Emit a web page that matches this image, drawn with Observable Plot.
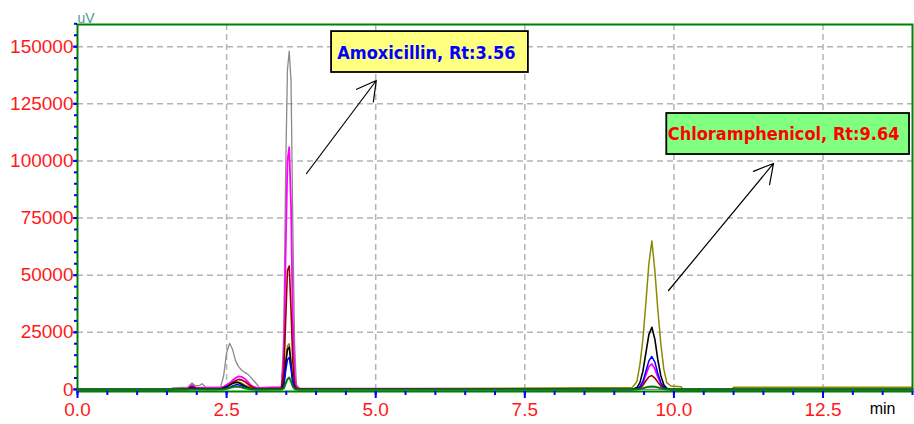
<!DOCTYPE html>
<html><head><meta charset="utf-8">
<script src="https://cdn.jsdelivr.net/npm/d3@7"></script>
<script src="https://cdn.jsdelivr.net/npm/@observablehq/plot@0.6"></script>
<style>
html,body{margin:0;padding:0;background:#fff;}
#chart{width:914px;height:424px;overflow:hidden;}
</style></head><body><div id="chart"></div>
<script>
// Retention time grid (min)
const times = [0, 1.55, 1.6, 1.85, 1.92, 1.98, 2.05, 2.09, 2.15, 2.4, 2.45, 2.5, 2.55, 2.6, 2.65, 2.7, 2.75, 2.8, 2.85, 2.9, 2.95, 3.0, 3.05,
  3.42, 3.46, 3.49, 3.52, 3.55, 3.58, 3.61, 3.64, 3.67, 3.72,
  9.3, 9.38, 9.43, 9.48, 9.53, 9.58, 9.63, 9.68, 9.73, 9.78, 9.83, 9.88, 9.95,
  10.12, 10.15, 10.98, 11.0, 14.0];

// Detector response (uV) per injection trace
const grey    = [0, 0, 700, 1000, 2800, 1500, 1800, 2500, 1000, 1000, 6000, 16000, 20200, 17500, 12500, 10000, 8500, 7500, 6800, 5500, 4000, 2500, 800,
  1000, 25000, 95000, 140000, 148000, 135000, 72000, 20000, 2000, 300,
  0, 0, 0, 0, 0, 0, 0, 0, 0, 0, 0, 0, 0,
  0, 0, 0, 0, 0];
const olive   = [0, 0, 0, 200, 800, 300, 300, 300, 200, 300, 800, 1500, 2500, 3300, 3600, 3300, 2800, 2000, 1400, 800, 400, 200, 200,
  300, 3000, 12000, 19000, 20000, 12000, 4000, 800, 200, 100,
  800, 3500, 11000, 22000, 38000, 55000, 65000, 52000, 35000, 20000, 9000, 3000, 1500,
  1200, 0, 0, 1000, 1000];
const magenta = [0, 0, 0, 500, 2000, 800, 700, 800, 700, 700, 1200, 2000, 2800, 4000, 5000, 5700, 5500, 4800, 3500, 2000, 1200, 800, 700,
  1000, 15000, 60000, 100000, 106000, 80000, 30000, 6000, 1000, 500,
  0, 300, 1000, 3000, 6500, 10000, 11200, 9000, 5500, 2500, 800, 200, 0,
  0, 0, 0, 0, 0];
const maroon  = [0, 0, 0, 300, 1200, 500, 400, 400, 300, 300, 600, 1200, 2000, 3000, 3800, 4400, 4200, 3500, 2500, 1500, 700, 400, 300,
  500, 8000, 30000, 52000, 54000, 35000, 12000, 2000, 500, 300,
  0, 200, 600, 1800, 3800, 5500, 6100, 5000, 3200, 1500, 500, 100, 0,
  0, 0, 0, 0, 0];
const black   = [0, 0, 0, 0, 1000, 300, 200, 300, 100, 200, 600, 1200, 1900, 2600, 3000, 2900, 2300, 1500, 900, 400, 200, 100, 0,
  200, 2500, 11000, 17500, 18500, 11000, 3500, 600, 100, 0,
  0, 800, 3000, 8000, 16000, 24000, 27200, 22000, 13000, 6000, 2000, 500, 0,
  0, 0, 0, 0, 0];
const blue    = [0, 0, 0, 0, 500, 200, 100, 200, 0, 100, 300, 600, 1000, 1500, 2000, 2000, 1600, 1000, 500, 200, 100, 0, 0,
  100, 1500, 8000, 13000, 14000, 9000, 3000, 500, 100, 0,
  0, 300, 1200, 3500, 8000, 12500, 14400, 12000, 7000, 3000, 1000, 200, 0,
  0, 0, 0, 0, 0];
const green   = [0, 0, 0, 0, 0, 0, 0, 0, 0, 0, 100, 300, 600, 1000, 1300, 1200, 900, 500, 300, 100, 0, 0, 0,
  0, 500, 2500, 4500, 5200, 3500, 1200, 200, 0, 0,
  0, 0, 200, 500, 900, 1200, 1300, 1200, 900, 500, 200, 0, 0,
  0, 0, 0, 0, 0];

const traceNames  = ["grey", "olive", "magenta", "maroon", "black", "blue", "green"];
const traceValues = [grey, olive, magenta, maroon, black, blue, green];

// Axis ticks
const yTicks = [0, 25000, 50000, 75000, 100000, 125000, 150000];
const xTicks = [0, 2.5, 5, 7.5, 10, 12.5];

// Peak annotations
const annLabels = ["Amoxicillin, Rt:3.56", "Chloramphenicol, Rt:9.64"];
const annRt = [3.56, 9.64];

// ---- presentation ----
const traceColors = {grey:"#8a8a8a", olive:"#8c8a00", magenta:"#ff00ff", maroon:"#990000", black:"#000000", blue:"#0000ff", green:"#008000"};
const traceWidths = {grey:1.3, olive:1.5, magenta:1.8, maroon:1.6, black:1.6, blue:1.5, green:2};

const ann = annLabels.map((label, i) => ({label, rt: annRt[i]}));
const annStyle = [
  {bx1: 4.26, bx2: 7.56, by1: 156600, by2: 138700, tx: 5.85, ty: 147300, fill: "#ffff80", color: "#0000ff",
   ax1: 3.84, ay1: 94500, ax2: 5.01, ay2: 135200},
  {bx1: 9.88, bx2: 13.95, by1: 120750, by2: 102800, tx: 11.84, ty: 111800, fill: "#80ff80", color: "#ff0000",
   ax1: 9.91, ay1: 43300, ax2: 11.67, ay2: 98900}
];
const annData = ann.map((a, i) => ({...a, ...annStyle[i]}));

const yMinor = d3.range(0, 160001, 5000);
const xMinor = d3.range(0, 14.001, 0.5);

const lineMarks = traceNames.map((name, k) =>
  Plot.line(times, {x: d => d, y: (d, i) => traceValues[k][i], stroke: traceColors[name], strokeWidth: traceWidths[name]})
);

const chart = Plot.plot({
  width: 914,
  height: 424,
  marginLeft: 77,
  marginRight: 2,
  marginTop: 24,
  marginBottom: 33,
  style: {fontFamily: "'Liberation Sans', Arial, sans-serif", background: "#fff"},
  x: {domain: [0, 14]},
  y: {domain: [-900, 159700]},
  marks: [
    Plot.gridX(xTicks.filter(d => d > 0), {stroke: "#b4b4b4", strokeOpacity: 1, strokeWidth: 1.5, strokeDasharray: "6,4"}),
    Plot.gridY(yTicks.filter(d => d > 0), {stroke: "#b4b4b4", strokeOpacity: 1, strokeWidth: 1.5, strokeDasharray: "6,4"}),
    ...lineMarks,
    Plot.frame({stroke: "#008000", strokeWidth: 2}),
    Plot.axisY({ticks: yMinor, tickSize: 3, stroke: "#0000ff", strokeWidth: 2, text: null, label: null}),
    Plot.axisY({ticks: yTicks, tickSize: 4, tickPadding: 0, stroke: "#0000ff", strokeWidth: 2, fill: "#ff1a1a", fontSize: 19, tickFormat: d3.format("d"), label: null}),
    Plot.axisX({ticks: xMinor, tickSize: 4, stroke: "#0000ff", strokeWidth: 2, text: null, label: null}),
    Plot.axisX({ticks: xTicks, tickSize: 7, tickPadding: 4, stroke: "#0000ff", strokeWidth: 2, fill: "#ff1a1a", fontSize: 19, tickFormat: d3.format(".1f"), label: null}),
    Plot.text(["uV"], {frameAnchor: "top-left", dy: -11, dx: 0, text: d => d, fill: "#4a9a9a", fontSize: 14}),
    Plot.text(["min"], {frameAnchor: "bottom-right", dy: 22, dx: -17, text: d => d, fill: "#000", fontSize: 16}),
    Plot.arrow(annData, {x1: "ax1", y1: "ay1", x2: "ax2", y2: "ay2", stroke: "#000", strokeWidth: 1.2, headLength: 27, headAngle: 58}),
    Plot.rect(annData, {x1: "bx1", x2: "bx2", y1: "by1", y2: "by2", fill: "fill", stroke: "#000", strokeWidth: 1.8}),
    Plot.text(annData, {x: "tx", y: "ty", text: "label", fill: "color", fontSize: 18, fontWeight: "bold",
      fontFamily: "'DejaVu Sans Condensed', 'DejaVu Sans', sans-serif"})
  ]
});
document.getElementById("chart").appendChild(chart);
</script>
</body></html>
